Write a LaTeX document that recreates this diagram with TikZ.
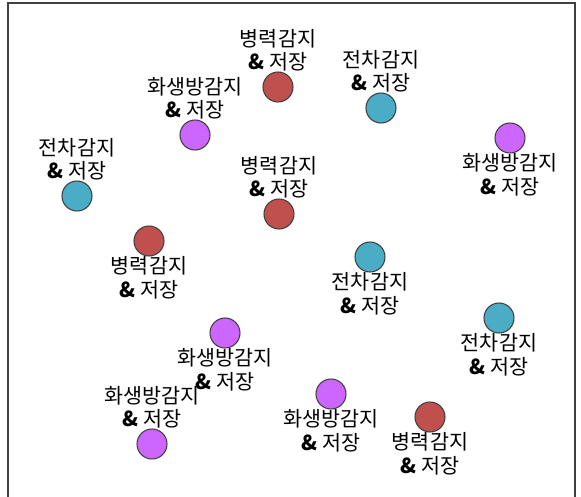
\documentclass[tikz,border=0pt]{standalone}
\usepackage{fontspec}
\setmainfont{Noto Sans CJK KR}
\usetikzlibrary{positioning}
\definecolor{troop}{HTML}{C0504D}
\definecolor{tank}{HTML}{4BACC6}
\definecolor{cbr}{HTML}{CC66FF}
\definecolor{edge}{HTML}{404040}
\newcommand{\amp}{\textbf{\&}}

\begin{document}
\begin{tikzpicture}[x=0.75pt,y=-0.75pt,
  font=\fontsize{15.5}{17.5}\selectfont,
  sensor/.style={circle,draw=edge,line width=0.8pt,minimum size=22.5pt,inner sep=0pt},
  troopS/.style={sensor,fill=troop},
  tankS/.style={sensor,fill=tank},
  cbrS/.style={sensor,fill=cbr},
  lbl/.style={align=center,inner sep=0pt},
  node distance=0pt]
\useasboundingbox (0,0) rectangle (581,496);
\draw[edge,line width=0.8pt] (8,500) -- (8,3) -- (575,3) -- (575,500);
% sensors
\node[troopS] (tr1) at (278,87)  {};
\node[tankS]  (tk1) at (381,108) {};
\node[cbrS]   (cb1) at (195,135) {};
\node[cbrS]   (cb2) at (510,138) {};
\node[tankS]  (tk2) at (77,196)  {};
\node[troopS] (tr2) at (279,214) {};
\node[troopS] (tr3) at (149,241) {};
\node[tankS]  (tk3) at (370,257) {};
\node[tankS]  (tk4) at (499,318) {};
\node[cbrS]   (cb3) at (225,333) {};
\node[cbrS]   (cb4) at (331,394) {};
\node[troopS] (tr4) at (430,417) {};
\node[cbrS]   (cb5) at (152,444) {};
% labels
\node[lbl,above=of tr1] (tr1l) {병력감지\\\amp{} 저장};
\node[lbl,above=of tk1] (tk1l) {전차감지\\\amp{} 저장};
\node[lbl,above=of cb1] (cb1l) {화생방감지\\\amp{} 저장};
\node[lbl,below=of cb2] (cb2l) {화생방감지\\\amp{} 저장};
\node[lbl,above=of tk2] (tk2l) {전차감지\\\amp{} 저장};
\node[lbl,above=of tr2] (tr2l) {병력감지\\\amp{} 저장};
\node[lbl,below=of tr3] (tr3l) {병력감지\\\amp{} 저장};
\node[lbl,below=of tk3] (tk3l) {전차감지\\\amp{} 저장};
\node[lbl,below=of tk4] (tk4l) {전차감지\\\amp{} 저장};
\node[lbl,below=of cb3] (cb3l) {화생방감지\\\amp{} 저장};
\node[lbl,below=of cb4] (cb4l) {화생방감지\\\amp{} 저장};
\node[lbl,below=of tr4] (tr4l) {병력감지\\\amp{} 저장};
\node[lbl,above=of cb5] (cb5l) {화생방감지\\\amp{} 저장};
\end{tikzpicture}
\end{document}
